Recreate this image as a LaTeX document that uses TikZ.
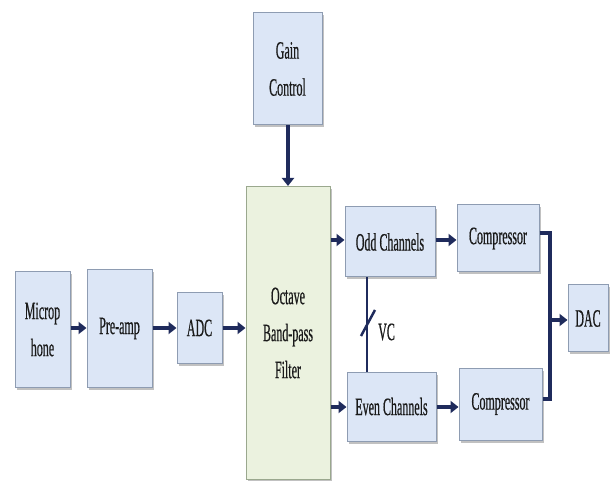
\documentclass[tikz,border=0pt]{standalone}
\usepackage{fontspec}
\setmainfont{Liberation Serif}[FakeStretch=0.48,FakeBold=0.5]
\usetikzlibrary{arrows.meta,shadows}
\definecolor{boxblue}{HTML}{DCE6F6}
\definecolor{boxedge}{HTML}{8E9CB2}
\definecolor{filtgreen}{HTML}{EBF2DF}
\definecolor{filtedge}{HTML}{9AA88E}
\definecolor{navy}{HTML}{1F2B5C}
\definecolor{txt}{HTML}{1A1A1A}
\tikzset{
  blk/.style={draw=boxedge, line width=1pt, fill=boxblue, inner sep=0pt,
    align=center, text=txt, font=\fontsize{25}{37}\selectfont,
    drop shadow={shadow xshift=1.5pt, shadow yshift=-2.5pt, fill=gray!60, opacity=0.8}},
  filt/.style={blk, draw=filtedge, fill=filtgreen},
  arr/.style={draw=navy, line width=4pt, -{Triangle[width=12pt,length=8pt]}},
  wire/.style={draw=navy, line width=4pt},
  thin/.style={draw=navy, line width=2pt},
}
\begin{document}
\begin{tikzpicture}[x=1pt,y=-1pt]
\useasboundingbox (0,0) rectangle (611,481);
\node[blk, minimum width=55pt, minimum height=115pt] (mic) at (42.5,329.5) {Microp\\hone};
\node[blk, minimum width=65pt, minimum height=117pt] (pre) at (119.5,328.5) {Pre-amp};
\node[blk, minimum width=45pt, minimum height=70pt] (adc) at (199.5,328) {ADC};
\node[filt, minimum width=84pt, minimum height=293pt] (filt) at (288,333) {Octave\\Band-pass\\Filter};
\node[blk, minimum width=69pt, minimum height=112pt] (gain) at (287.5,69) {Gain\\Control};
\node[blk, minimum width=90pt, minimum height=70pt] (odd) at (390,242) {Odd Channels};
\node[blk, minimum width=82pt, minimum height=67pt] (c1) at (498,238.5) {Compressor};
\node[blk, minimum width=89pt, minimum height=69pt] (even) at (391.5,406.5) {Even Channels};
\node[blk, minimum width=83pt, minimum height=72pt] (c2) at (500.5,404) {Compressor};
\node[blk, minimum width=40pt, minimum height=67pt] (dac) at (588,318.5) {DAC};
\node[font=\fontsize{25}{28}\selectfont, text=txt, anchor=west, inner sep=0pt] (vc) at (378,332) {VC};

\coordinate (ry) at (0,328);
\draw[arr] (mic.east |- ry) -- (pre.west |- ry);
\draw[arr] (pre.east |- ry) -- (adc.west |- ry);
\draw[arr] (adc.east |- ry) -- (filt.west |- ry);
\draw[arr] (gain.south -| filt.north) -- (filt.north);
\coordinate (oy) at (0,240);
\coordinate (ey) at (0,407);
\draw[arr] (filt.east |- oy) -- (odd.west |- oy);
\draw[arr] (filt.east |- ey) -- (even.west |- ey);
\draw[arr] (odd.east |- oy) -- (c1.west |- oy);
\draw[arr] (even.east |- ey) -- (c2.west |- ey);

\coordinate (j) at (550,320);
\coordinate (o1) at (0,233);
\coordinate (o2) at (0,399);
\draw[wire] (c1.east |- o1) -- (j |- o1) -- (j);
\draw[wire] (c2.east |- o2) -- (j |- o2) -- (j);
\draw[arr] (j) -- (dac.west |- j);

\coordinate (vx) at (367,0);
\draw[thin] (odd.south -| vx) -- (even.north -| vx);
\coordinate (s1) at (361,336);
\coordinate (s2) at (375,310);
\draw[thin, line width=2.5pt] (s1) -- (s2);
\end{tikzpicture}
\end{document}
